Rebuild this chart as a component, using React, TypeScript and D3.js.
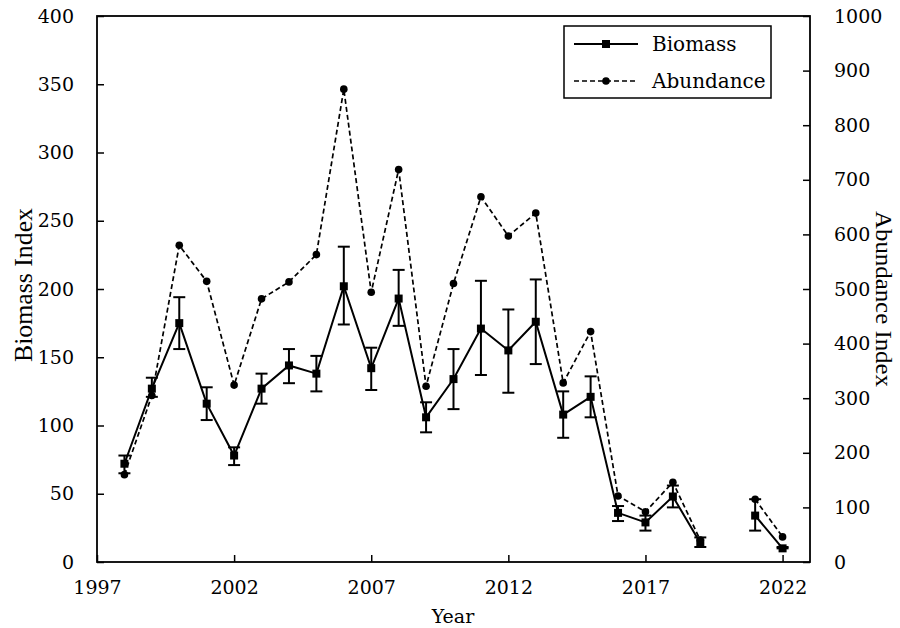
import React, { useEffect, useRef } from 'react';
import * as d3 from 'd3';

// survey years (2020 has no survey)
const years: number[] = [1998, 1999, 2000, 2001, 2002, 2003, 2004, 2005, 2006, 2007, 2008, 2009, 2010,
  2011, 2012, 2013, 2014, 2015, 2016, 2017, 2018, 2019, 2020, 2021, 2022];
const biomass: (number | null)[] = [72, 127, 175, 116, 78, 127, 144, 138, 202, 142, 193, 106, 134,
  171, 155, 176, 108, 121, 36, 29, 48, 14, null, 34, 10];
const biomassHi: (number | null)[] = [78, 135, 194, 128, 84, 138, 156, 151, 231, 157, 214, 117, 156,
  206, 185, 207, 125, 136, 41, 34, 56, 18, null, 46, 11];
const biomassLo: (number | null)[] = [65, 121, 156, 104, 71, 116, 131, 125, 174, 126, 173, 95, 112,
  137, 124, 145, 91, 106, 30, 23, 40, 11, null, 23, 10];
const abundance: (number | null)[] = [160, 305, 580, 514, 324, 482, 513, 563, 866, 494, 719, 322, 510,
  669, 597, 639, 328, 422, 121, 92, 146, 40, null, 115, 46];

const leftTicks = [0, 50, 100, 150, 200, 250, 300, 350, 400];
const rightTicks = [0, 100, 200, 300, 400, 500, 600, 700, 800, 900, 1000];
const yearTicks = [1997, 2002, 2007, 2012, 2017, 2022];

const W = 900;
const H = 628;
const tickFont = '"DejaVu Serif", serif';

export default function App() {
  const ref = useRef<SVGSVGElement>(null);

  useEffect(() => {
    const svg = d3.select(ref.current);
    svg.selectAll('*').remove();

    const x = d3.scaleLinear().domain([1997, 2023]).range([97, 810]);
    const yL = d3.scaleLinear().domain([0, 400]).range([562, 16]);
    const yR = d3.scaleLinear().domain([0, 1000]).range([562, 16]);

    // axes, ticks pointing inward
    const gL = svg.append('g').attr('transform', `translate(${x.range()[0]},0)`)
      .call(d3.axisLeft(yL).tickValues(leftTicks).tickFormat(d3.format('d')).tickSizeInner(-7).tickSizeOuter(0).tickPadding(23));
    const gR = svg.append('g').attr('transform', `translate(${x.range()[1]},0)`)
      .call(d3.axisRight(yR).tickValues(rightTicks).tickFormat(d3.format('d')).tickSizeInner(-7).tickSizeOuter(0).tickPadding(24));
    const gB = svg.append('g').attr('transform', `translate(0,${yL.range()[0]})`)
      .call(d3.axisBottom(x).tickValues(yearTicks).tickFormat(d3.format('d')).tickSizeInner(-7).tickSizeOuter(0).tickPadding(19));
    [gL, gR, gB].forEach(g => {
      g.selectAll('.domain').remove();
      g.selectAll('line').attr('stroke', '#000').attr('stroke-width', 1.5);
      g.selectAll('text').attr('font-family', tickFont).attr('font-size', 19).attr('fill', '#000');
    });

    // plot frame
    svg.append('rect')
      .attr('x', x.range()[0]).attr('y', yL.range()[1])
      .attr('width', x.range()[1] - x.range()[0])
      .attr('height', yL.range()[0] - yL.range()[1])
      .attr('fill', 'none').attr('stroke', '#000').attr('stroke-width', 1.8);

    const idx = d3.range(years.length);

    // abundance (dashed, right axis)
    const lineA = d3.line<number>()
      .defined(i => abundance[i] !== null)
      .x(i => x(years[i]))
      .y(i => yR(abundance[i] as number));
    svg.append('path').attr('d', lineA(idx) as string)
      .attr('fill', 'none').attr('stroke', '#000').attr('stroke-width', 1.7).attr('stroke-dasharray', '5,3');
    svg.selectAll('circle.ab')
      .data(idx.filter(i => abundance[i] !== null))
      .join('circle')
      .attr('class', 'ab')
      .attr('cx', i => x(years[i]))
      .attr('cy', i => yR(abundance[i] as number))
      .attr('r', 3.8)
      .attr('fill', '#000');

    // biomass (solid, left axis) with error bars
    const lineB = d3.line<number>()
      .defined(i => biomass[i] !== null)
      .x(i => x(years[i]))
      .y(i => yL(biomass[i] as number));
    svg.append('path').attr('d', lineB(idx) as string)
      .attr('fill', 'none').attr('stroke', '#000').attr('stroke-width', 2);

    const withErr = idx.filter(i => biomass[i] !== null);
    const eb = svg.append('g').attr('stroke', '#000').attr('stroke-width', 2);
    eb.selectAll('line.v').data(withErr).join('line').attr('class', 'v')
      .attr('x1', i => x(years[i])).attr('x2', i => x(years[i]))
      .attr('y1', i => yL(biomassLo[i] as number)).attr('y2', i => yL(biomassHi[i] as number));
    eb.selectAll('line.hi').data(withErr).join('line').attr('class', 'hi')
      .attr('x1', i => x(years[i]) - 6).attr('x2', i => x(years[i]) + 6)
      .attr('y1', i => yL(biomassHi[i] as number)).attr('y2', i => yL(biomassHi[i] as number));
    eb.selectAll('line.lo').data(withErr).join('line').attr('class', 'lo')
      .attr('x1', i => x(years[i]) - 6).attr('x2', i => x(years[i]) + 6)
      .attr('y1', i => yL(biomassLo[i] as number)).attr('y2', i => yL(biomassLo[i] as number));

    svg.selectAll('rect.bm')
      .data(withErr)
      .join('rect')
      .attr('class', 'bm')
      .attr('x', i => x(years[i]) - 4)
      .attr('y', i => yL(biomass[i] as number) - 4)
      .attr('width', 8).attr('height', 8)
      .attr('fill', '#000');

    // axis titles
    svg.append('text')
      .attr('transform', 'translate(32,285) rotate(-90)')
      .attr('text-anchor', 'middle')
      .attr('font-family', '"Liberation Serif", serif').attr('font-size', 25)
      .attr('textLength', 154).attr('lengthAdjust', 'spacingAndGlyphs')
      .text('Biomass Index');
    svg.append('text')
      .attr('transform', 'translate(876,299) rotate(90)')
      .attr('text-anchor', 'middle')
      .attr('font-family', '"Liberation Serif", serif').attr('font-size', 24)
      .attr('textLength', 176).attr('lengthAdjust', 'spacingAndGlyphs')
      .text('Abundance Index');
    svg.append('text')
      .attr('x', 453).attr('y', 623)
      .attr('text-anchor', 'middle')
      .attr('font-family', tickFont).attr('font-size', 19)
      .text('Year');

    // legend
    const lg = svg.append('g');
    lg.append('rect').attr('x', 564).attr('y', 26).attr('width', 207).attr('height', 72)
      .attr('fill', '#fff').attr('stroke', '#000').attr('stroke-width', 1.5);
    const rows = [
      { name: 'Biomass', y: 44, dash: null, mark: 'square' },
      { name: 'Abundance', y: 81, dash: '5,3', mark: 'circle' },
    ];
    rows.forEach(r => {
      lg.append('line').attr('x1', 574).attr('x2', 638).attr('y1', r.y).attr('y2', r.y)
        .attr('stroke', '#000').attr('stroke-width', r.dash ? 1.7 : 2)
        .attr('stroke-dasharray', r.dash);
      if (r.mark === 'square') {
        lg.append('rect').attr('x', 606 - 4).attr('y', r.y - 4).attr('width', 8).attr('height', 8).attr('fill', '#000');
      } else {
        lg.append('circle').attr('cx', 606).attr('cy', r.y).attr('r', 3.8).attr('fill', '#000');
      }
      lg.append('text').attr('x', 652).attr('y', r.y + 7)
        .attr('font-family', tickFont).attr('font-size', 20)
        .text(r.name);
    });
  }, []);

  return (
    <svg ref={ref} width={W} height={H}
      style={{ position: 'absolute', left: 0, top: 0, background: '#fff' }} />
  );
}
